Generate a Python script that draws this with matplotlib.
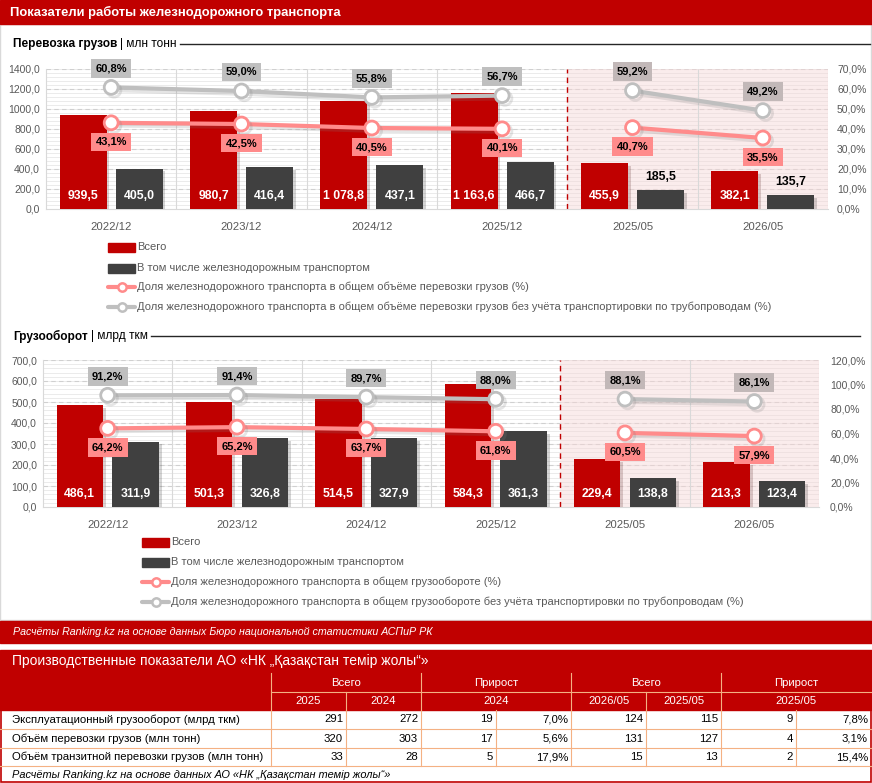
import numpy as np
import matplotlib
matplotlib.use("Agg")
import matplotlib.pyplot as plt
import matplotlib.patheffects as pe
from matplotlib.patches import Rectangle

plt.rcParams['font.family'] = ['Liberation Sans', 'DejaVu Sans']

# данные графиков
cats = ['2022/12', '2023/12', '2024/12', '2025/12', '2025/05', '2026/05']

cargo_total = [939.5, 980.7, 1078.8, 1163.6, 455.9, 382.1]
cargo_rail = [405.0, 416.4, 437.1, 466.7, 185.5, 135.7]
cargo_share = [43.1, 42.5, 40.5, 40.1, 40.7, 35.5]
cargo_share_np = [60.8, 59.0, 55.8, 56.7, 59.2, 49.2]

turn_total = [486.1, 501.3, 514.5, 584.3, 229.4, 213.3]
turn_rail = [311.9, 326.8, 327.9, 361.3, 138.8, 123.4]
turn_share = [64.2, 65.2, 63.7, 61.8, 60.5, 57.9]
turn_share_np = [91.2, 91.4, 89.7, 88.0, 88.1, 86.1]

legend_cargo = ['Всего',
                'В том числе железнодорожным транспортом',
                'Доля железнодорожного транспорта в общем объёме перевозки грузов (%)',
                'Доля железнодорожного транспорта в общем объёме перевозки грузов без учёта транспортировки по трубопроводам (%)']
legend_turn = ['Всего',
               'В том числе железнодорожным транспортом',
               'Доля железнодорожного транспорта в общем грузообороте (%)',
               'Доля железнодорожного транспорта в общем грузообороте без учёта транспортировки по трубопроводам (%)']

# данные таблицы
row_names = ['Эксплуатационный грузооборот (млрд ткм)',
             'Объём перевозки грузов (млн тонн)',
             'Объём транзитной перевозки грузов (млн тонн)']
head_top = ['Всего', 'Прирост', 'Всего', 'Прирост']
head_sub = ['2025', '2024', '2024', '2026/05', '2025/05', '2025/05']
tot_2025 = [291, 320, 33]
tot_2024 = [272, 303, 28]
gr_abs = [19, 17, 5]
gr_pct = [7.0, 5.6, 17.9]
tot_2605 = [124, 131, 15]
tot_2505 = [115, 127, 13]
gr_abs_m = [9, 4, 2]
gr_pct_m = [7.8, 3.1, 15.4]

W, H = 872, 783
RED = '#C00000'
DARK = '#404040'
PINK = '#FF8B8B'
GREY = '#BFBFBF'
TXT = '#595959'
LINEC = '#F4B183'

fig = plt.figure(figsize=(W / 100, H / 100), dpi=100)
bg = fig.add_axes([0, 0, 1, 1])
bg.set_xlim(0, W)
bg.set_ylim(H, 0)
bg.axis('off')


def box(x0, y0, x1, y1):
    return [x0 / W, 1 - y1 / H, (x1 - x0) / W, (y1 - y0) / H]


def fmt_num(v):
    return f"{v:,.1f}".replace(',', ' ').replace('.', ',')


def fmt_pct(v):
    return f"{v:.1f}%".replace('.', ',')


def draw_chart(rect, total, rail, share, share_np, ymax, ystep, pmax, pstep, rpad):
    ax = fig.add_axes(rect)
    ax2 = ax.twinx()
    n = len(cats)
    x = np.arange(n)
    n_ann = sum(c.endswith('/12') for c in cats)
    ax.set_xlim(-0.5, n - 0.5)
    ax.set_ylim(0, ymax)
    ax2.set_ylim(0, pmax)

    # фон и сетка
    minor = np.arange(0, ymax + 1e-9, ystep / 5)
    ax.hlines(minor[1:], -0.5, n - 0.5, color='#EBEBEB', lw=0.7, zorder=0.5)
    major = np.arange(0, ymax + 1e-9, ystep)
    ax.hlines(major[1:], -0.5, n - 0.5, color='#D0D0D0', lw=0.8,
              linestyles=(0, (4, 3)), zorder=0.6)
    ax.axvspan(n_ann - 0.5, n - 0.5, color='#F6D5D5', alpha=0.45, lw=0, zorder=0.7)
    sep = [b for b in np.arange(0.5, n - 0.5) if b != n_ann - 0.5]
    ax.vlines(sep, 0, ymax, color='#D9D9D9', lw=0.8, zorder=0.8)
    ax.vlines([n - 0.5], 0, ymax, color='#E8D2D2', lw=0.8, zorder=0.8)
    ax.axvline(n_ann - 0.5, color=RED, lw=1, ls=(0, (4, 3)), zorder=0.9)

    # столбцы
    shadow = [pe.SimplePatchShadow(offset=(2, -2), alpha=0.18), pe.Normal()]
    b1 = ax.bar(x - 0.215, total, width=0.36, color=RED, zorder=3)
    b2 = ax.bar(x + 0.215, rail, width=0.36, color=DARK, zorder=3)
    for p in list(b1) + list(b2):
        p.set_path_effects(shadow)

    ph = rect[3] * H
    for off, vals in [(-0.215, total), (0.215, rail)]:
        for xi, v in zip(x + off, vals):
            if v / ymax * ph > 24:
                ax.annotate(fmt_num(v), (xi, 0), xytext=(0, 13), textcoords='offset pixels',
                            ha='center', va='center', color='white', fontsize=8.8,
                            fontweight='bold', zorder=4)
            else:
                ax.annotate(fmt_num(v), (xi, v), xytext=(0, 13), textcoords='offset pixels',
                            ha='center', va='center', color='black', fontsize=8.8,
                            fontweight='bold', zorder=4)

    # линии долей
    lshadow = [pe.SimpleLineShadow(offset=(2, -2), alpha=0.2, shadow_color='gray'), pe.Normal()]
    for vals, col, dy in [(share_np, GREY, 19), (share, PINK, -19)]:
        for seg in [slice(0, n_ann), slice(n_ann, n)]:
            ax2.plot(x[seg], vals[seg], color=col, lw=3, marker='o', ms=10,
                     mfc='white', mec=col, mew=2, zorder=5, path_effects=lshadow)
        for i, v in enumerate(vals):
            fc = col
            if col == GREY and i >= n_ann:
                fc = '#C2B8B8'
            ax2.annotate(fmt_pct(v), (x[i], v), xytext=(0, dy), textcoords='offset pixels',
                         ha='center', va='center', fontsize=8, fontweight='bold',
                         color='black', zorder=6,
                         bbox=dict(boxstyle='square,pad=0.38', fc=fc, ec='none'))

    # оси
    ax.set_yticks(major)
    ax.set_yticklabels([f"{v:.1f}".replace('.', ',') for v in major])
    ax.set_xticks(x)
    ax.set_xticklabels(cats)
    ax.tick_params(axis='y', length=0, pad=4.3, labelsize=7.5, labelcolor=TXT)
    ax.tick_params(axis='x', length=0, pad=9, labelsize=8.2, labelcolor=TXT)
    pt = np.arange(0, pmax + 1e-9, pstep)
    ax2.set_yticks(pt)
    ax2.set_yticklabels([fmt_pct(v) for v in pt])
    ax2.tick_params(axis='y', length=0, pad=rpad, labelsize=7.5, labelcolor=TXT)
    for s in ['top', 'right']:
        ax.spines[s].set_visible(False)
    for s in ['left', 'bottom']:
        ax.spines[s].set_color('#D9D9D9')
    for s in ax2.spines.values():
        s.set_visible(False)
    return ax


def legend(x0, ys, labels):
    bg.add_patch(Rectangle((x0, ys[0] - 4.5), 27, 9, color=RED))
    bg.add_patch(Rectangle((x0, ys[1] - 4.5), 27, 9, color=DARK))
    for y, col in [(ys[2], PINK), (ys[3], GREY)]:
        bg.plot([x0, x0 + 27], [y, y], color=col, lw=3, solid_capstyle='round')
        bg.plot([x0 + 13.5], [y], 'o', ms=6, mfc='white', mec=col, mew=1.8)
    for y, lab in zip(ys, labels):
        bg.text(x0 + 29, y, lab, va='center', ha='left', fontsize=8, color=TXT)


def section_title(x, y, bold, rest, x_end):
    t1 = bg.text(x, y, bold, fontsize=8.6, fontweight='bold', va='center', ha='left')
    t2 = bg.annotate(rest, xy=(1, 0.5), xycoords=t1, xytext=(3, 0),
                     textcoords='offset pixels', fontsize=8.6, va='center', ha='left')
    fig.canvas.draw()
    r = fig.canvas.get_renderer()
    bb = t2.get_window_extent(r)
    xe = bg.transData.inverted().transform((bb.x1, 0))[0]
    bg.plot([xe + 3, x_end], [y, y], color='#262626', lw=1)


# шапка
bg.add_patch(Rectangle((0, 24), W - 1, 596, fc='white', ec='#D9D9D9', lw=1))
bg.add_patch(Rectangle((0, 0), W, 24, color=RED))
bg.text(10, 12.5, 'Показатели работы железнодорожного транспорта', color='white',
        fontsize=9.4, fontweight='bold', va='center', ha='left')

section_title(13, 44, 'Перевозка грузов', '| млн тонн', 870)
draw_chart(box(46, 69, 828, 209), cargo_total, cargo_rail, cargo_share, cargo_share_np,
           1400, 200, 70, 10, 6.5)
legend(108, [247, 268, 287, 307], legend_cargo)

section_title(13, 336, 'Грузооборот', '| млрд ткм', 860)
draw_chart(box(43, 360, 819, 507), turn_total, turn_rail, turn_share, turn_share_np,
           700, 100, 120, 20, 8)
legend(142, [542, 562, 582, 602], legend_turn)

# источник
bg.add_patch(Rectangle((0, 621), W, 22, color=RED))
bg.text(13, 632, 'Расчёты Ranking.kz на основе данных Бюро национальной статистики АСПиР РК',
        color='white', fontsize=7.7, style='italic', va='center', ha='left')

# таблица
bg.add_patch(Rectangle((0, 650), W, 23, color=RED))
bg.text(12, 661.5, 'Производственные показатели АО «НК „Қазақстан темір жолы“»',
        color='white', fontsize=10, va='center', ha='left')

col_x = [0, 271, 346, 421, 496, 571, 646, 721, 796, 871]
row_y = [673, 692, 710, 729, 748, 766, 783]
bg.add_patch(Rectangle((0, row_y[0]), col_x[-1], row_y[2] - row_y[0], color=RED))

# заголовок таблицы
for k, lab in enumerate(head_top):
    xa, xb = col_x[1 + 2 * k], col_x[3 + 2 * k]
    bg.text((xa + xb) / 2, (row_y[0] + row_y[1]) / 2, lab, color='white', fontsize=8.2,
            ha='center', va='center')
sub_spans = [(1, 2), (2, 3), (3, 5), (5, 6), (6, 7), (7, 9)]
for (a, b), lab in zip(sub_spans, head_sub):
    bg.text((col_x[a] + col_x[b]) / 2, (row_y[1] + row_y[2]) / 2, lab, color='white',
            fontsize=8.2, ha='center', va='center')
bg.plot([col_x[1], col_x[-1]], [row_y[1]] * 2, color=LINEC, lw=0.8)
for c in [1, 3, 5, 7]:
    bg.plot([col_x[c]] * 2, [row_y[0], row_y[2]], color=LINEC, lw=0.8)
for c in [2, 6]:
    bg.plot([col_x[c]] * 2, [row_y[1], row_y[2]], color=LINEC, lw=0.8)

# строки таблицы
cols = [tot_2025, tot_2024, gr_abs, gr_pct, tot_2605, tot_2505, gr_abs_m, gr_pct_m]
for r, name in enumerate(row_names):
    ya, yb = row_y[2 + r], row_y[3 + r]
    yc = (ya + yb) / 2
    bg.text(12, yc, name, fontsize=8.2, ha='left', va='center', color='black')
    for c, vals in enumerate(cols):
        v = vals[r]
        s = fmt_pct(v) if c in (3, 7) else str(v)
        bg.text(col_x[c + 2] - 3, yc, s, fontsize=8.2, ha='right', va='center', color='black')
    bg.plot([0, col_x[-1]], [yb, yb], color=LINEC, lw=0.8)
for c in col_x[1:-1]:
    bg.plot([c, c], [row_y[2], row_y[5]], color=LINEC, lw=0.8)

bg.text(12, (row_y[5] + row_y[6]) / 2,
        'Расчёты Ranking.kz на основе данных АО «НК „Қазақстан темір жолы“»',
        fontsize=7.9, style='italic', ha='left', va='center', color='black')
bg.add_patch(Rectangle((0.7, row_y[0]), col_x[-1] - 0.7, row_y[6] - row_y[0] - 0.8,
                       fc='none', ec=RED, lw=1.2))

fig.savefig('out.png', dpi=100)
